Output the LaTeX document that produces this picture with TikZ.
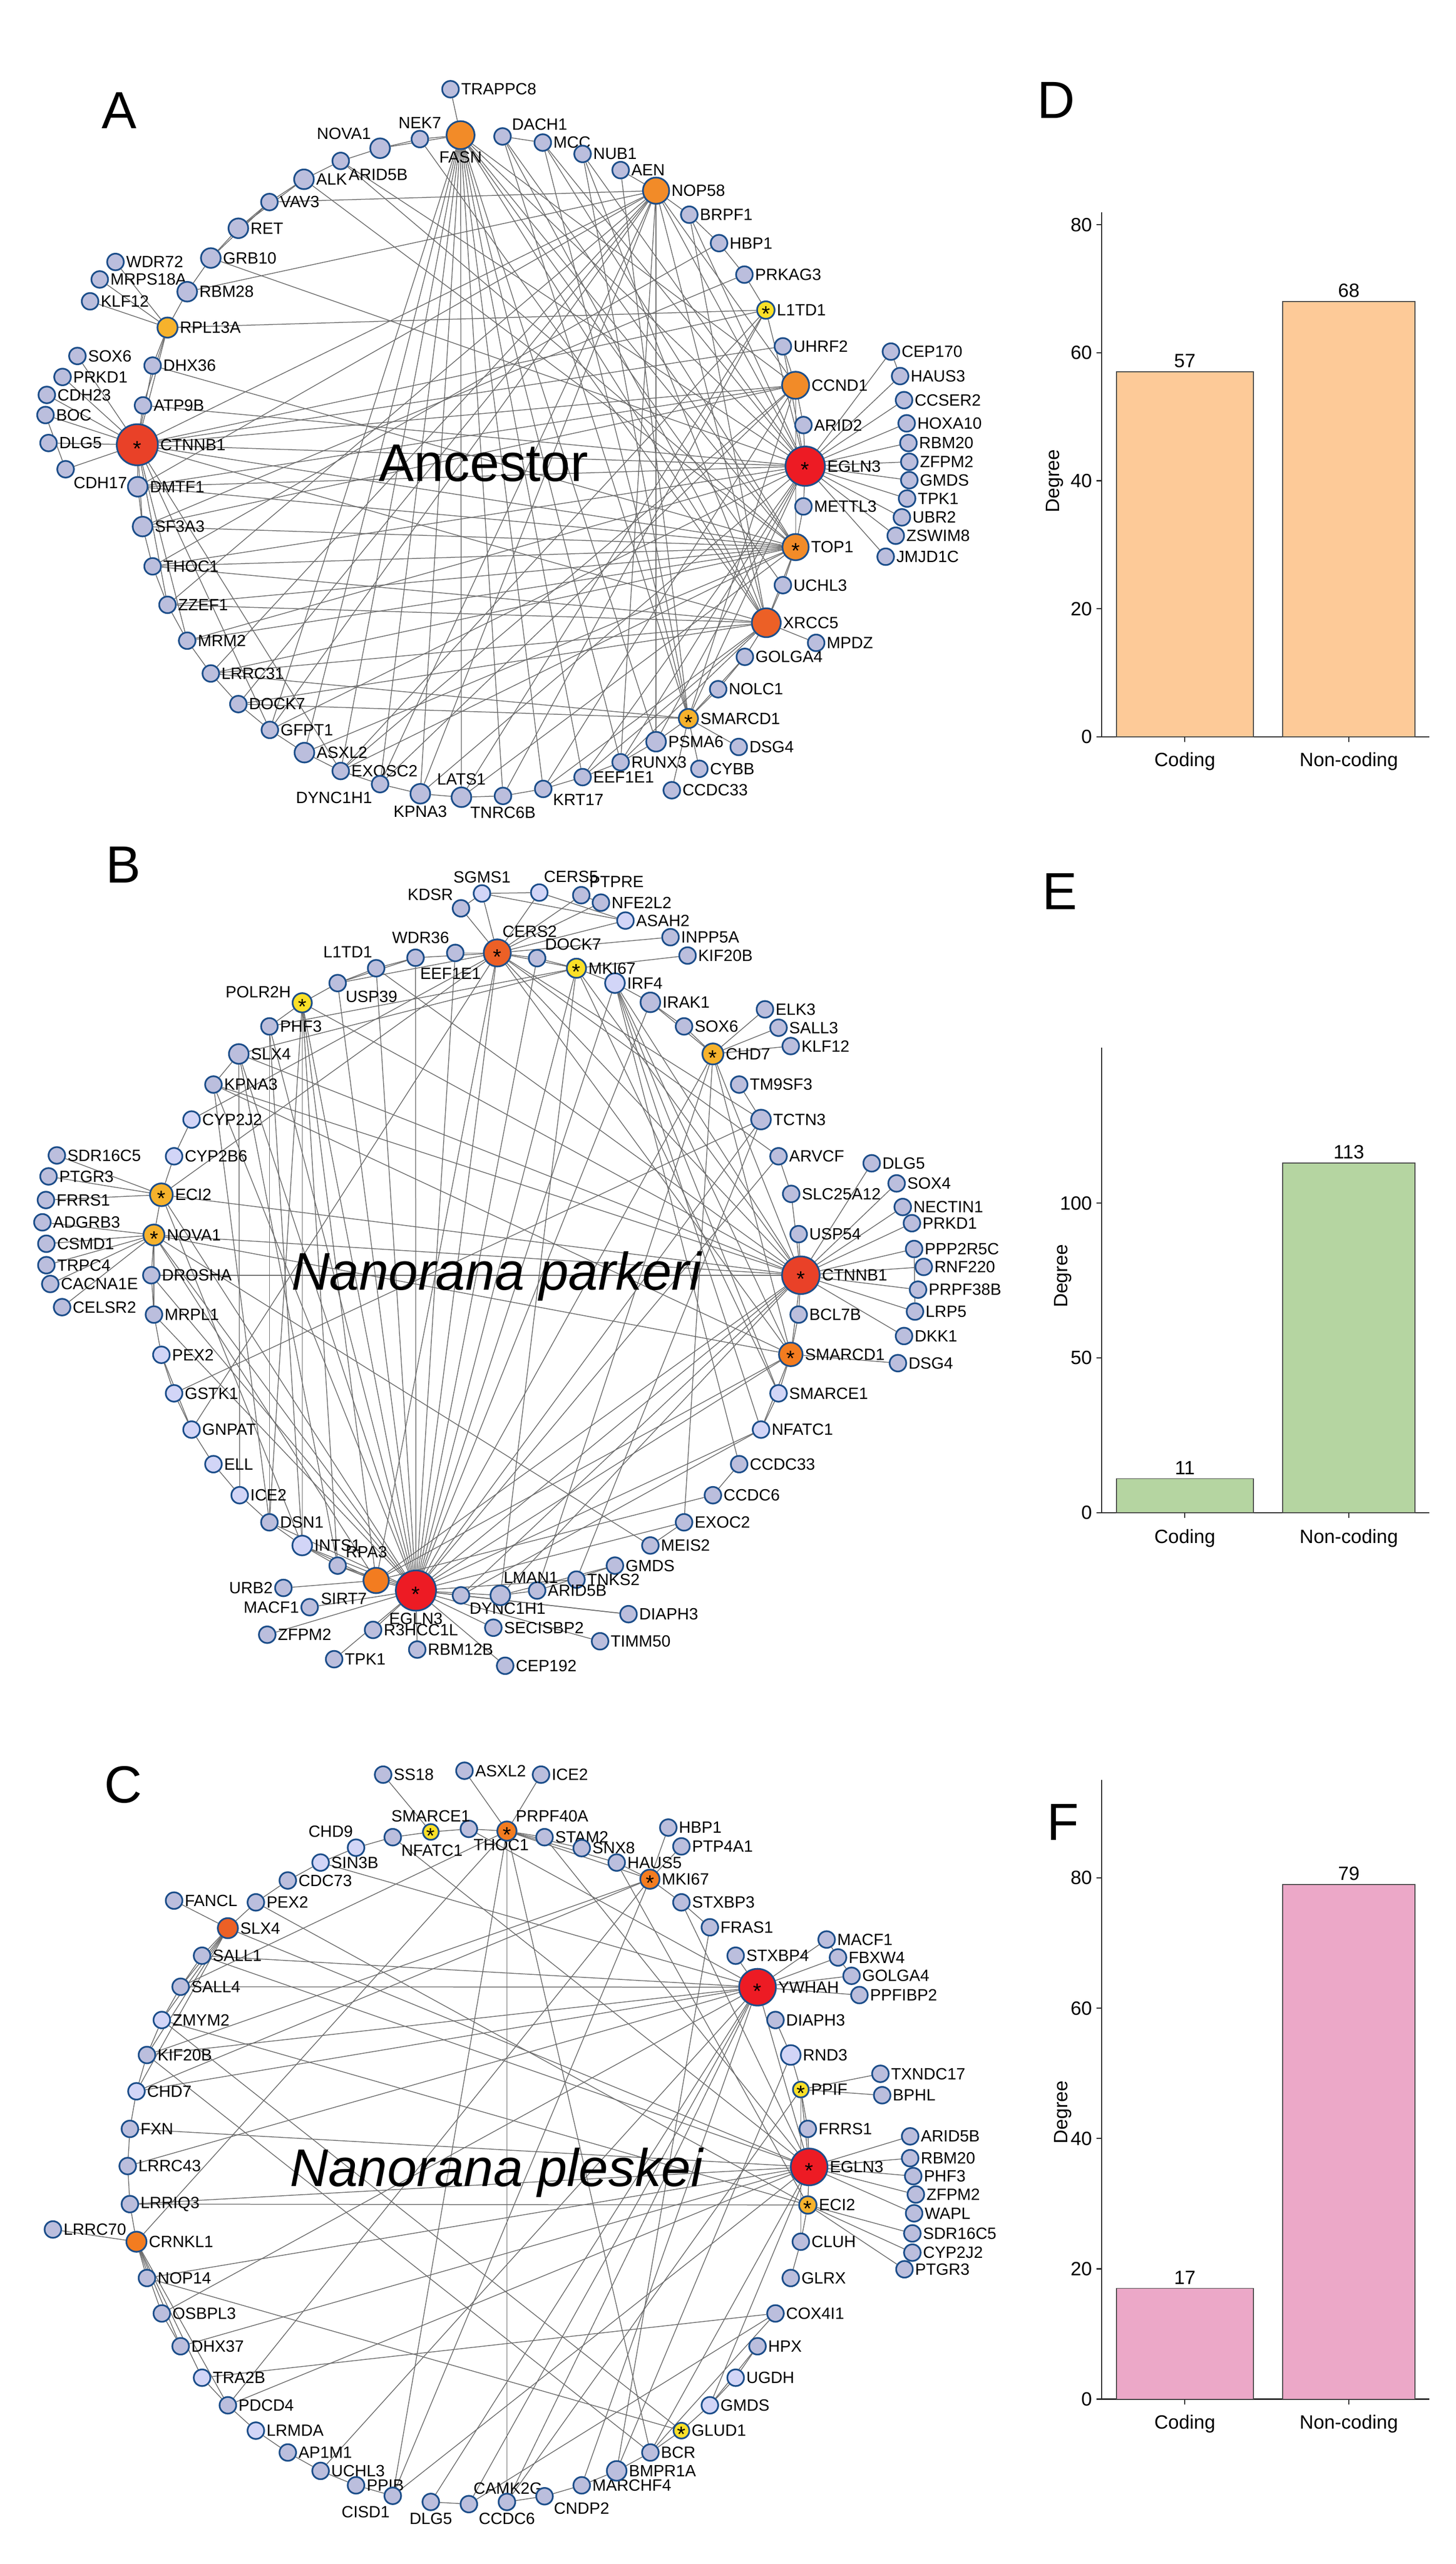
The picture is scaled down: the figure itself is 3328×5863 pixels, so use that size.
\documentclass[tikz,border=0pt]{standalone}
\usepackage{fontspec}
\setmainfont{Liberation Sans}
\usetikzlibrary{backgrounds}

\definecolor{genefill}{RGB}{187,190,221}
\definecolor{palefill}{RGB}{210,213,247}
\definecolor{geneline}{RGB}{28,78,138}
\definecolor{hubred}{RGB}{237,27,36}
\definecolor{hubredorange}{RGB}{233,65,40}
\definecolor{huborangered}{RGB}{236,96,38}
\definecolor{huborange}{RGB}{242,139,40}
\definecolor{hubdarkorange}{RGB}{243,124,32}
\definecolor{hubamber}{RGB}{246,178,44}
\definecolor{hubyellow}{RGB}{250,224,40}
\definecolor{linkgray}{RGB}{105,105,105}
\definecolor{barpeach}{RGB}{253,202,152}
\definecolor{bargreen}{RGB}{181,213,161}
\definecolor{barpink}{RGB}{236,168,200}
\definecolor{baredge}{RGB}{70,70,70}

\newcommand\labfont{\fontsize{10.6pt}{12.5pt}\selectfont}
\newcommand\starfont{\fontsize{14pt}{14pt}\selectfont}
\newcommand\panelfont{\fontsize{34pt}{36pt}\selectfont}
\newcommand\titlefont{\fontsize{34.5pt}{38pt}\selectfont}
\newcommand\chartfont{\fontsize{12.5pt}{14pt}\selectfont}
\newcommand\hubstar{\raisebox{-0.52em}[0pt][0pt]{*}}

\tikzset{
  gene/.style={circle, draw=geneline, fill=genefill, line width=1.1pt, minimum size=0.38cm, inner sep=0pt, font=\starfont},
  midgene/.style={gene, minimum size=0.45cm},
  palegene/.style={gene, fill=palefill},
  palemid/.style={midgene, fill=palefill},
  hubgene/.style={gene, minimum size=#1},
  link/.style={draw=linkgray, line width=0.5pt},
  every label/.style={font=\labfont, inner sep=0.8pt},
  panel/.style={font=\panelfont, inner sep=0pt},
  title/.style={font=\titlefont, inner sep=0pt, anchor=base},
  axis/.style={draw=black!85, line width=0.8pt},
  bar/.style={draw=baredge, line width=0.6pt},
  ticklab/.style={font=\chartfont, inner sep=2.5pt, anchor=east},
  vallab/.style={font=\chartfont, inner sep=2.5pt, anchor=south},
  catlab/.style={font=\chartfont, inner sep=0pt}
}

\begin{document}
\begin{tikzpicture}[x=0.01cm, y=-0.01cm]
\useasboundingbox (0,0) rectangle (3328,5863);
\begin{pgfonlayer}{background}
  \fill[white] (0,0) rectangle (3328,5863);
\end{pgfonlayer}

%%%%% A : Ancestor %%%%%
\begin{scope}[name prefix=a-]
\node[panel] (tag) at (273,253) {A};
\node[title] (ttl) at (1105,1100) {Ancestor};

\foreach \n/\x/\y/\p in {TRAPPC8/1030/204/right, NEK7/960/318/above, DACH1/1149/312/30,
  MCC/1241/326/right, NUB1/1332/352/right, AEN/1419/389/right, ARID5B/779/368/below right,
  VAV3/616/462/right, WDR72/264/599/right, MRPS18A/228/639/right, KLF12/206/689/right,
  SOX6/177/814/right, DHX36/349/836/right, PRKD1/143/862/right, CDH23/107/903/right,
  ATP9B/327/927/right, BOC/104/949/right, DLG5/111/1013/right, CDH17/150/1073/below right,
  THOC1/349/1295/right, ZZEF1/383/1383/right, MRM2/428/1465/right, LRRC31/482/1540/right,
  DOCK7/545/1610/right, GFPT1/617/1669/right, EXOSC2/779/1763/right, DYNC1H1/869/1793/-135,
  TNRC6B/1150/1820/below, KRT17/1242/1804/-25, EEF1E1/1332/1777/right, RUNX3/1419/1743/right,
  CCDC33/1536/1807/right, CYBB/1599/1758/right, DSG4/1689/1708/right, NOLC1/1642/1576/right,
  GOLGA4/1703/1502/right, MPDZ/1866/1470/right, UCHL3/1790/1338/right, METTL3/1837/1158/right,
  ARID2/1837/972/right, JMJD1C/2025/1273/right, ZSWIM8/2048/1225/right, UBR2/2062/1183/right,
  TPK1/2074/1140/right, GMDS/2079/1098/right, ZFPM2/2079/1056/right, RBM20/2077/1013/right,
  HOXA10/2073/968/right, CCSER2/2067/915/right, HAUS3/2058/860/right, CEP170/2037/804/right,
  UHRF2/1790/792/right, PRKAG3/1702/628/right, HBP1/1644/556/right, BRPF1/1576/491/right}
  \node[gene, label=\p:\n] (\n) at (\x,\y) {};

\foreach \n/\x/\y/\p in {NOVA1/869/339/135, ALK/695/410/right, RET/545/522/right,
  GRB10/482/590/right, RBM28/428/667/right, DMTF1/315/1113/right, SF3A3/326/1204/right,
  ASXL2/696/1721/right, KPNA3/961/1815/below, LATS1/1055/1823/above, PSMA6/1500/1696/right}
  \node[midgene, label=\p:\n] (\n) at (\x,\y) {};

\node[hubgene=0.64cm, fill=huborange, label=below:FASN] (FASN) at (1053,309) {};
\node[hubgene=0.60cm, fill=huborange, label=right:NOP58] (NOP58) at (1500,436) {};
\node[hubgene=0.62cm, fill=huborange, label=right:CCND1] (CCND1) at (1819,881) {};
\node[hubgene=0.40cm, fill=hubyellow, label=right:L1TD1] (L1TD1) at (1751,709) {\hubstar};
\node[hubgene=0.46cm, fill=hubamber, label=right:RPL13A] (RPL13A) at (383,749) {};
\node[hubgene=0.94cm, fill=hubredorange, label=right:CTNNB1] (CTNNB1) at (314,1017) {\hubstar};
\node[hubgene=0.90cm, fill=hubred, label=right:EGLN3] (EGLN3) at (1841,1066) {\hubstar};
\node[hubgene=0.60cm, fill=huborange, label=right:TOP1] (TOP1) at (1819,1251) {\hubstar};
\node[hubgene=0.66cm, fill=huborangered, label=right:XRCC5] (XRCC5) at (1752,1424) {};
\node[hubgene=0.44cm, fill=hubamber, label=right:SMARCD1] (SMARCD1) at (1574,1643) {\hubstar};

\begin{pgfonlayer}{background}
\foreach \a/\b in {CTNNB1/SOX6, CTNNB1/PRKD1, CTNNB1/CDH23, CTNNB1/BOC, CTNNB1/DLG5,
  CTNNB1/CDH17, CTNNB1/DMTF1, CTNNB1/ATP9B, CTNNB1/DHX36, CTNNB1/RPL13A, CTNNB1/SF3A3,
  CTNNB1/MRM2, CTNNB1/ZZEF1, CTNNB1/EGLN3, CTNNB1/TOP1, CTNNB1/CCND1, CTNNB1/UHRF2,
  CTNNB1/L1TD1, CTNNB1/XRCC5, CTNNB1/GFPT1, CTNNB1/EXOSC2, BOC/CDH17,
  WDR72/RPL13A, MRPS18A/RPL13A, KLF12/RPL13A, RBM28/RPL13A, RPL13A/DHX36, RPL13A/L1TD1,
  RPL13A/ATP9B, RBM28/NOP58, GRB10/EGLN3, VAV3/NOP58, DHX36/TOP1, ARID5B/EGLN3,
  ARID5B/TOP1, NEK7/XRCC5, ALK/TOP1, ALK/RET, VAV3/GRB10,
  TRAPPC8/FASN, NEK7/FASN, NOVA1/FASN, FASN/KPNA3, FASN/LATS1, FASN/TNRC6B, FASN/DYNC1H1,
  FASN/EXOSC2, FASN/ASXL2, FASN/GFPT1, FASN/KRT17, FASN/EEF1E1, FASN/RUNX3, FASN/PSMA6,
  FASN/EGLN3, FASN/TOP1, FASN/XRCC5, FASN/UCHL3, FASN/CCND1,
  DACH1/TOP1, DACH1/XRCC5, DACH1/SMARCD1, MCC/TOP1, MCC/SMARCD1, MCC/EGLN3, NUB1/EGLN3,
  NUB1/XRCC5, NUB1/SMARCD1, AEN/NOP58, AEN/SMARCD1,
  NOP58/BRPF1, NOP58/CTNNB1, NOP58/DMTF1, NOP58/ZZEF1, NOP58/LRRC31, NOP58/DOCK7,
  NOP58/GFPT1, NOP58/KPNA3, NOP58/DYNC1H1, NOP58/RUNX3, NOP58/PSMA6, NOP58/XRCC5,
  NOP58/EGLN3, NOP58/CCND1, BRPF1/HBP1, BRPF1/EGLN3, BRPF1/XRCC5, HBP1/THOC1,
  PRKAG3/SF3A3, PRKAG3/L1TD1, HBP1/PRKAG3, L1TD1/EGLN3, L1TD1/LATS1, L1TD1/TNRC6B,
  L1TD1/EXOSC2, UHRF2/CCND1, UHRF2/EGLN3,
  CCND1/ARID2, CCND1/DMTF1, CCND1/SF3A3, CCND1/EXOSC2, CCND1/DYNC1H1, CCND1/KRT17,
  CCND1/SMARCD1, CCND1/TOP1,
  EGLN3/CEP170, EGLN3/HAUS3, EGLN3/CCSER2, EGLN3/HOXA10, EGLN3/RBM20, EGLN3/ZFPM2,
  EGLN3/GMDS, EGLN3/TPK1, EGLN3/UBR2, EGLN3/ZSWIM8, EGLN3/JMJD1C, EGLN3/METTL3,
  EGLN3/ARID2, EGLN3/ATP9B, EGLN3/DMTF1, EGLN3/THOC1, EGLN3/MRM2, EGLN3/GFPT1,
  EGLN3/KPNA3, EGLN3/RUNX3, EGLN3/EEF1E1, EGLN3/SMARCD1, EGLN3/PSMA6,
  TOP1/DMTF1, TOP1/SF3A3, TOP1/THOC1, TOP1/ZZEF1, TOP1/MRM2, TOP1/LRRC31, TOP1/ASXL2,
  TOP1/EXOSC2, TOP1/LATS1, TOP1/METTL3, TOP1/UCHL3, TOP1/XRCC5,
  XRCC5/MPDZ, XRCC5/GOLGA4, XRCC5/UCHL3, XRCC5/THOC1, XRCC5/ZZEF1, XRCC5/LRRC31,
  XRCC5/DOCK7, XRCC5/EEF1E1, XRCC5/RUNX3, XRCC5/KRT17,
  SMARCD1/PSMA6, SMARCD1/DSG4, SMARCD1/CYBB, SMARCD1/CCDC33, SMARCD1/NOLC1,
  SMARCD1/GOLGA4, SMARCD1/LRRC31, SMARCD1/DOCK7,
  NEK7/NOVA1, NOVA1/ARID5B, ARID5B/ALK, ALK/VAV3, VAV3/RET, RET/GRB10, GRB10/RBM28,
  DACH1/MCC, CEP170/HAUS3, GOLGA4/NOLC1, PSMA6/RUNX3, RUNX3/EEF1E1, EEF1E1/KRT17,
  KRT17/TNRC6B, TNRC6B/LATS1, LATS1/KPNA3, KPNA3/DYNC1H1, DYNC1H1/EXOSC2, EXOSC2/ASXL2,
  ASXL2/GFPT1, GFPT1/DOCK7, DOCK7/LRRC31, LRRC31/MRM2, MRM2/ZZEF1, ZZEF1/THOC1,
  THOC1/SF3A3, SF3A3/DMTF1}
  \draw[link] (\a) -- (\b);
\end{pgfonlayer}
\end{scope}

%%%%% B : Nanorana parkeri %%%%%
\begin{scope}[name prefix=b-]
\node[panel] (tag) at (282,1977) {B};
\node[title] (ttl) at (1135,2950) {\itshape Nanorana parkeri};

\foreach \n/\x/\y/\p in {KDSR/1054/2077/above left, PTPRE/1329/2047/above right,
  NFE2L2/1374/2064/right, INPP5A/1533/2143/right, KIF20B/1572/2185/right,
  WDR36/1041/2179/120, EEF1E1/950/2190/-70, L1TD1/860/2214/105, USP39/772/2248/below right,
  DOCK7/1228/2191/above right, SOX6/1564/2347/right, ELK3/1749/2308/right,
  SALL3/1780/2350/right, KLF12/1808/2392/right, TM9SF3/1690/2480/right,
  ARVCF/1780/2644/right, DLG5/1993/2660/right, SOX4/2050/2706/right,
  SLC25A12/1809/2730/right, NECTIN1/2064/2760/right, PRKD1/2085/2797/right,
  USP54/1826/2822/right, PPP2R5C/2090/2856/right, RNF220/2112/2897/right,
  PRPF38B/2099/2949/right, BCL7B/1826/3006/right, LRP5/2092/2999/right,
  DKK1/2067/3055/right, DSG4/2053/3117/right, CCDC33/1690/3348/right,
  CCDC6/1630/3419/right, EXOC2/1564/3481/right, MEIS2/1487/3534/right,
  GMDS/1406/3580/right, TNKS2/1318/3612/right, ARID5B/1228/3637/right,
  DYNC1H1/1054/3648/-40, DIAPH3/1437/3691/right, TIMM50/1372/3753/right,
  CEP192/1155/3809/right, SECISBP2/1128/3722/right, RBM12B/954/3772/right,
  R3HCC1L/853/3727/right, TPK1/764/3794/right, ZFPM2/611/3738/right,
  MACF1/708/3675/left, URB2/648/3631/left, PHF3/616/2347/right, KPNA3/488/2480/right,
  SDR16C5/130/2642/right, PTGR3/111/2690/right, FRRS1/105/2744/right,
  ADGRB3/97/2795/right, CSMD1/106/2844/right, TRPC4/106/2893/right,
  DROSHA/346/2916/right, CACNA1E/115/2936/right, CELSR2/142/2989/right,
  MRPL1/352/3006/right, DSN1/616/3481/right, RPA3/772/3580/above right}
  \node[gene, label=\p:\n] (\n) at (\x,\y) {};

\foreach \n/\x/\y/\p in {SGMS1/1102/2043/above, CERS5/1233/2041/70,
  ASAH2/1430/2105/right, CYP2J2/438/2560/right, CYP2B6/398/2644/right,
  PEX2/369/3098/right, GSTK1/398/3186/right, GNPAT/438/3269/right, ELL/488/3348/right,
  ICE2/548/3419/right, SMARCE1/1780/3186/right, NFATC1/1740/3269/right}
  \node[palegene, label=\p:\n] (\n) at (\x,\y) {};

\foreach \n/\x/\y/\p in {SLX4/546/2410/right, IRAK1/1487/2292/right,
  TCTN3/1740/2560/right, LMAN1/1144/3648/80}
  \node[midgene, label=\p:\n] (\n) at (\x,\y) {};

\foreach \n/\x/\y/\p in {IRF4/1406/2248/right, INTS1/691/3534/right}
  \node[palemid, label=\p:\n] (\n) at (\x,\y) {};

\node[hubgene=0.62cm, fill=huborangered, label=75:CERS2] (CERS2) at (1137,2179) {\hubstar};
\node[hubgene=0.44cm, fill=hubyellow, label=right:MKI67] (MKI67) at (1318,2214) {\hubstar};
\node[hubgene=0.48cm, fill=hubamber, label=right:CHD7] (CHD7) at (1630,2410) {\hubstar};
\node[hubgene=0.44cm, fill=hubyellow, label=160:POLR2H] (POLR2H) at (691,2293) {\hubstar};
\node[hubgene=0.52cm, fill=hubamber, label=right:ECI2] (ECI2) at (369,2732) {\hubstar};
\node[hubgene=0.48cm, fill=hubamber, label=right:NOVA1] (NOVA1) at (352,2824) {\hubstar};
\node[hubgene=0.86cm, fill=hubredorange, label=right:CTNNB1] (CTNNB1) at (1831,2916) {\hubstar};
\node[hubgene=0.54cm, fill=hubdarkorange, label=right:SMARCD1] (SMARCD1) at (1808,3097) {\hubstar};
\node[hubgene=0.58cm, fill=hubdarkorange, label=-125:SIRT7] (SIRT7) at (860,3614) {};
\node[hubgene=0.92cm, fill=hubred, label=below:EGLN3] (EGLN3) at (951,3637) {\hubstar};

\begin{pgfonlayer}{background}
\foreach \a/\b in {CERS2/KDSR, CERS2/SGMS1, CERS2/CERS5, CERS2/PTPRE, CERS2/NFE2L2,
  CERS2/ASAH2, CERS2/INPP5A, CERS2/WDR36, CERS2/DOCK7, CERS2/MKI67, CERS2/EEF1E1,
  CERS2/USP39, CERS2/ECI2, CERS2/EGLN3, CERS2/SIRT7, CERS2/CTNNB1, CERS2/SMARCD1,
  CERS2/TCTN3, CERS2/ARVCF, CERS2/GNPAT, CERS2/CYP2J2,
  SGMS1/CERS5, SGMS1/ASAH2, SGMS1/KDSR, CERS5/ASAH2, PTPRE/NFE2L2,
  MKI67/KIF20B, MKI67/IRF4, MKI67/DOCK7, MKI67/PHF3, MKI67/SLX4, MKI67/EGLN3,
  MKI67/LMAN1, MKI67/CTNNB1, MKI67/SMARCE1,
  IRF4/IRAK1, IRF4/NFATC1, IRF4/SMARCE1, IRF4/SMARCD1, IRF4/CTNNB1, IRF4/CCDC33,
  IRAK1/CHD7, IRAK1/EGLN3, SOX6/IRAK1,
  CHD7/ELK3, CHD7/SALL3, CHD7/KLF12, CHD7/SOX6, CHD7/CTNNB1, CHD7/SMARCD1, CHD7/EXOC2,
  CHD7/EGLN3, CHD7/ARID5B,
  TM9SF3/TCTN3, TCTN3/EGLN3, TCTN3/TNKS2, GSTK1/TCTN3,
  ARVCF/SLC25A12, ARVCF/EGLN3, SLC25A12/CTNNB1,
  CTNNB1/DLG5, CTNNB1/SOX4, CTNNB1/NECTIN1, CTNNB1/PRKD1, CTNNB1/PPP2R5C, CTNNB1/RNF220,
  CTNNB1/PRPF38B, CTNNB1/LRP5, CTNNB1/DKK1, CTNNB1/USP54, CTNNB1/BCL7B, CTNNB1/SMARCD1,
  CTNNB1/POLR2H, CTNNB1/SLX4, CTNNB1/KPNA3, CTNNB1/ECI2, CTNNB1/NOVA1, CTNNB1/DROSHA,
  CTNNB1/EGLN3, CTNNB1/SIRT7, CTNNB1/LMAN1, CTNNB1/DYNC1H1, CTNNB1/L1TD1, PPP2R5C/LRP5,
  SMARCD1/DSG4, SMARCD1/SMARCE1, SMARCD1/NFATC1, SMARCD1/BCL7B, SMARCD1/NOVA1,
  SMARCD1/EGLN3, SMARCD1/SIRT7, SMARCD1/KPNA3,
  SMARCE1/NFATC1, NFATC1/EGLN3, NFATC1/DYNC1H1, CCDC33/CCDC6, CCDC6/SIRT7, EXOC2/MEIS2,
  EXOC2/EGLN3, MEIS2/NOVA1, GMDS/LMAN1, GMDS/ARID5B, TNKS2/EGLN3, ARID5B/LMAN1,
  LMAN1/EGLN3, DYNC1H1/EGLN3, DIAPH3/DYNC1H1, DIAPH3/EGLN3,
  EGLN3/MACF1, EGLN3/ZFPM2, EGLN3/TPK1, EGLN3/R3HCC1L, EGLN3/RBM12B, EGLN3/SECISBP2,
  EGLN3/CEP192, EGLN3/TIMM50,
  SIRT7/URB2, SIRT7/RPA3, SIRT7/EGLN3, SIRT7/INTS1, SIRT7/POLR2H,
  EGLN3/POLR2H, EGLN3/PHF3, EGLN3/SLX4, EGLN3/KPNA3, EGLN3/USP39, EGLN3/L1TD1,
  EGLN3/EEF1E1, EGLN3/WDR36, EGLN3/DOCK7, EGLN3/IRF4, EGLN3/MRPL1, EGLN3/DROSHA,
  EGLN3/NOVA1, EGLN3/ECI2, EGLN3/INTS1, EGLN3/RPA3, EGLN3/DSN1,
  POLR2H/USP39, POLR2H/PHF3, POLR2H/INTS1, POLR2H/RPA3, POLR2H/DSN1,
  USP39/EEF1E1, L1TD1/EEF1E1, L1TD1/USP39,
  PHF3/DSN1, PHF3/INTS1, SLX4/KPNA3, SLX4/ICE2, SLX4/RPA3, KPNA3/DSN1,
  CYP2J2/CYP2B6, CYP2B6/ECI2,
  ECI2/SDR16C5, ECI2/PTGR3, ECI2/FRRS1, ECI2/NOVA1, ECI2/INTS1,
  NOVA1/ADGRB3, NOVA1/CSMD1, NOVA1/TRPC4, NOVA1/CACNA1E, NOVA1/CELSR2, NOVA1/DROSHA,
  NOVA1/MRPL1, NOVA1/SIRT7,
  DROSHA/MRPL1, MRPL1/PEX2, PEX2/GSTK1, GSTK1/GNPAT, PEX2/GNPAT, GNPAT/ELL, ELL/ICE2,
  ICE2/DSN1, DSN1/INTS1, INTS1/RPA3, RPA3/SIRT7}
  \draw[link] (\a) -- (\b);
\end{pgfonlayer}
\end{scope}

%%%%% C : Nanorana pleskei %%%%%
\begin{scope}[name prefix=c-]
\node[panel] (tag) at (282,4081) {C};
\node[title] (ttl) at (1135,4999) {\itshape Nanorana pleskei};

\foreach \n/\x/\y/\p in {SS18/876/4058/right, ASXL2/1062/4049/right, ICE2/1237/4058/right,
  THOC1/1072/4182/-70, NFATC1/898/4201/-40, CDC73/658/4300/right, FANCL/398/4346/right,
  PEX2/585/4350/right, SALL1/462/4472/right, SALL4/413/4543/right, KIF20B/336/4699/right,
  FXN/297/4868/right, LRRC43/292/4953/right, LRRIQ3/297/5040/right, LRRC70/121/5098/right,
  NOP14/336/5209/right, OSBPL3/370/5290/right, DHX37/413/5365/right, PDCD4/521/5500/right,
  AP1M1/658/5608/right, UCHL3/733/5650/right, PPIB/814/5683/right, CISD1/898/5707/-100,
  DLG5/985/5721/below, CAMK2G/1072/5726/70, CCDC6/1159/5721/below, CNDP2/1245/5708/-30,
  MARCHF4/1330/5683/right, BCR/1487/5608/right, HPX/1732/5365/right,
  COX4I1/1773/5290/right, GLRX/1808/5209/right, CLUH/1831/5126/right, FRRS1/1847/4868/right,
  ARID5B/2081/4885/right, RBM20/2081/4935/right, PHF3/2088/4976/right,
  ZFPM2/2094/5018/right, WAPL/2090/5061/right, SDR16C5/2086/5107/right,
  CYP2J2/2086/5151/right, PTGR3/2068/5189/right, STAM2/1245/4201/right,
  SNX8/1330/4226/right, HBP1/1528/4179/right, PTP4A1/1558/4222/right, HAUS5/1410/4259/right,
  STXBP3/1558/4350/right, FRAS1/1623/4407/right, MACF1/1890/4435/right,
  STXBP4/1682/4472/right, FBXW4/1916/4476/right, GOLGA4/1947/4518/right,
  PPFIBP2/1965/4562/right, DIAPH3/1773/4619/right, TXNDC17/2013/4742/right,
  BPHL/2017/4791/right}
  \node[gene, label=\p:\n] (\n) at (\x,\y) {};

\foreach \n/\x/\y/\p in {CHD9/814/4225/100, SIN3B/733/4259/right, ZMYM2/370/4619/right,
  CHD7/312/4782/right, TRA2B/462/5437/right, LRMDA/585/5558/right, GMDS/1623/5500/right,
  UGDH/1682/5437/right}
  \node[palegene, label=\p:\n] (\n) at (\x,\y) {};

\node[midgene, label=right:BMPR1A] (BMPR1A) at (1410,5650) {};
\node[palemid, label=right:RND3] (RND3) at (1808,4699) {};

\node[hubgene=0.36cm, fill=hubyellow, label=above:SMARCE1] (SMARCE1) at (985,4189) {\hubstar};
\node[hubgene=0.44cm, fill=hubdarkorange, label=above right:PRPF40A] (PRPF40A) at (1159,4187) {\hubstar};
\node[hubgene=0.44cm, fill=hubdarkorange, label=right:MKI67] (MKI67) at (1486,4297) {\hubstar};
\node[hubgene=0.46cm, fill=huborangered, label=right:SLX4] (SLX4) at (521,4409) {};
\node[hubgene=0.46cm, fill=hubdarkorange, label=right:CRNKL1] (CRNKL1) at (312,5126) {};
\node[hubgene=0.84cm, fill=hubred, label=right:YWHAH] (YWHAH) at (1732,4544) {\hubstar};
\node[hubgene=0.36cm, fill=hubyellow, label=right:PPIF] (PPIF) at (1831,4778) {\hubstar};
\node[hubgene=0.40cm, fill=hubamber, label=right:ECI2] (ECI2) at (1847,5042) {\hubstar};
\node[hubgene=0.84cm, fill=hubred, label=right:EGLN3] (EGLN3) at (1850,4955) {\hubstar};
\node[hubgene=0.36cm, fill=hubyellow, label=right:GLUD1] (GLUD1) at (1558,5558) {\hubstar};

\begin{pgfonlayer}{background}
\foreach \a/\b in {SS18/SMARCE1, ASXL2/PRPF40A, ICE2/PRPF40A, SMARCE1/THOC1, THOC1/PRPF40A,
  SMARCE1/NFATC1, NFATC1/CHD9, CHD9/SIN3B, SIN3B/CDC73, CDC73/PEX2, PEX2/SLX4, FANCL/SLX4,
  SLX4/SALL1, SLX4/SALL4, SLX4/ZMYM2, SLX4/KIF20B, SLX4/CHD7, SALL1/SALL4, SALL4/ZMYM2,
  ZMYM2/KIF20B, KIF20B/CHD7, CHD7/FXN, FXN/LRRC43, LRRC43/LRRIQ3, LRRIQ3/CRNKL1,
  LRRC70/CRNKL1, CRNKL1/NOP14, CRNKL1/OSBPL3, CRNKL1/DHX37, CRNKL1/TRA2B, CRNKL1/PDCD4,
  OSBPL3/DHX37, TRA2B/PDCD4, PDCD4/LRMDA, LRMDA/AP1M1, AP1M1/UCHL3, UCHL3/PPIB, PPIB/CISD1,
  DLG5/CAMK2G, CCDC6/CNDP2, CNDP2/MARCHF4, MARCHF4/BMPR1A, BMPR1A/BCR, BCR/GLUD1,
  GLUD1/GMDS, GMDS/UGDH, UGDH/HPX, GLRX/CLUH, CLUH/ECI2, ECI2/EGLN3, EGLN3/FRRS1,
  PRPF40A/STAM2, PRPF40A/SNX8, PRPF40A/MKI67, PRPF40A/HAUS5, PRPF40A/BCR, PRPF40A/CCDC6,
  PRPF40A/CISD1, PRPF40A/SALL4, PRPF40A/CRNKL1,
  MKI67/HBP1, MKI67/PTP4A1, MKI67/HAUS5, MKI67/STXBP3, MKI67/CHD7, MKI67/KIF20B,
  MKI67/CISD1, MKI67/PDCD4,
  STAM2/EGLN3, HAUS5/ECI2, STXBP3/FRAS1, STXBP3/EGLN3, FRAS1/BMPR1A,
  YWHAH/STXBP4, YWHAH/MACF1, YWHAH/FBXW4, YWHAH/GOLGA4, YWHAH/PPFIBP2, YWHAH/SALL1,
  YWHAH/SALL4, YWHAH/THOC1, YWHAH/SIN3B, YWHAH/LRRC43, YWHAH/CHD7, YWHAH/KIF20B,
  YWHAH/CCDC6, YWHAH/DLG5, YWHAH/CAMK2G, YWHAH/UCHL3, YWHAH/OSBPL3, YWHAH/MARCHF4,
  YWHAH/EGLN3, MACF1/FBXW4, FBXW4/GOLGA4,
  DIAPH3/RND3, RND3/PPIF, RND3/BMPR1A, PPIF/TXNDC17, PPIF/BPHL, PPIF/FRRS1, PPIF/EGLN3,
  PPIF/CLUH, PPIF/CCDC6,
  EGLN3/ARID5B, EGLN3/RBM20, EGLN3/PHF3, EGLN3/ZFPM2, EGLN3/WAPL, EGLN3/SLX4, EGLN3/FXN,
  EGLN3/NOP14, EGLN3/DHX37, EGLN3/PDCD4, EGLN3/BCR, EGLN3/GMDS, EGLN3/CISD1,
  EGLN3/LRRIQ3, EGLN3/NFATC1, EGLN3/SALL1,
  ECI2/SDR16C5, ECI2/CYP2J2, ECI2/PTGR3, ECI2/LRRIQ3, ECI2/PEX2, ECI2/ZMYM2,
  GLUD1/NOP14, GLUD1/ZMYM2, COX4I1/BCR, COX4I1/CAMK2G, HPX/GMDS, KIF20B/BCR, TRA2B/COX4I1}
  \draw[link] (\a) -- (\b);
\end{pgfonlayer}
\end{scope}

%%%%% D : degree, ancestor %%%%%
\node[panel] (tagD) at (2415,229) {D};
\draw[axis] (2519,485) -- (2519,1685) -- (3268,1685);
\foreach \v in {0,20,40,60,80}
  \draw[axis] (2519,{1685-14.64*\v}) -- (2507,{1685-14.64*\v}) node[ticklab] (dt\v) {\v};
\draw[bar, fill=barpeach] (2553,1685) rectangle (2866,{1685-14.64*57});
\draw[bar, fill=barpeach] (2933,1685) rectangle (3235,{1685-14.64*68});
\node[vallab] (dv1) at (2709,{1685-14.64*57}) {57};
\node[vallab] (dv2) at (3084,{1685-14.64*68}) {68};
\draw[axis] (2709,1685) -- (2709,1697);
\draw[axis] (3084,1685) -- (3084,1697);
\node[catlab] (dc1) at (2709,1741) {Coding};
\node[catlab] (dc2) at (3084,1741) {Non-coding};
\node[catlab, rotate=90] (dy) at (2411,1100) {Degree};

%%%%% E : degree, N. parkeri %%%%%
\node[panel] (tagE) at (2423,2039) {E};
\draw[axis] (2519,2396) -- (2519,3459) -- (3268,3459);
\foreach \v in {0,50,100}
  \draw[axis] (2519,{3459-7.08*\v}) -- (2507,{3459-7.08*\v}) node[ticklab] (et\v) {\v};
\draw[bar, fill=bargreen] (2553,3459) rectangle (2866,{3459-7.08*11});
\draw[bar, fill=bargreen] (2933,3459) rectangle (3235,{3459-7.08*113});
\node[vallab] (ev1) at (2709,{3459-7.08*11}) {11};
\node[vallab] (ev2) at (3084,{3459-7.08*113}) {113};
\draw[axis] (2709,3459) -- (2709,3471);
\draw[axis] (3084,3459) -- (3084,3471);
\node[catlab] (ec1) at (2709,3518) {Coding};
\node[catlab] (ec2) at (3084,3518) {Non-coding};
\node[catlab, rotate=90] (ey) at (2430,2918) {Degree};

%%%%% F : degree, N. pleskei %%%%%
\node[panel] (tagF) at (2430,4167) {F};
\draw[axis] (2519,4070) -- (2519,5486) -- (3268,5486);
\foreach \v in {0,20,40,60,80}
  \draw[axis] (2519,{5486-14.9*\v}) -- (2507,{5486-14.9*\v}) node[ticklab] (ft\v) {\v};
\draw[bar, fill=barpink] (2553,5486) rectangle (2866,{5486-14.9*17});
\draw[bar, fill=barpink] (2933,5486) rectangle (3235,{5486-14.9*79});
\node[vallab] (fv1) at (2709,{5486-14.9*17}) {17};
\node[vallab] (fv2) at (3084,{5486-14.9*79}) {79};
\draw[axis] (2709,5486) -- (2709,5498);
\draw[axis] (3084,5486) -- (3084,5498);
\node[catlab] (fc1) at (2709,5542) {Coding};
\node[catlab] (fc2) at (3084,5542) {Non-coding};
\node[catlab, rotate=90] (fy) at (2430,4830) {Degree};

\end{tikzpicture}
\end{document}
